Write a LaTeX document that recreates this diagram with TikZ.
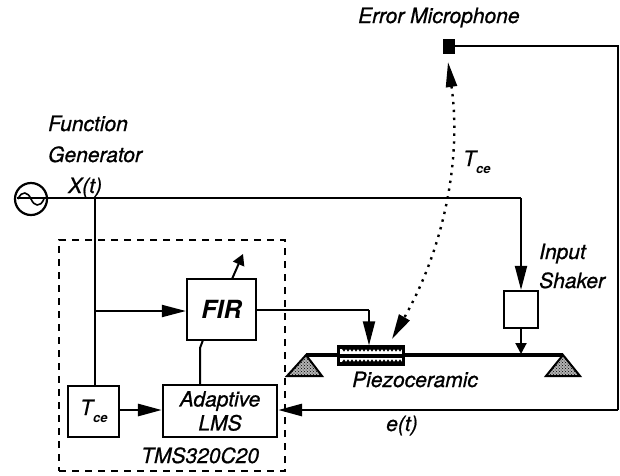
\documentclass[tikz,border=0pt]{standalone}
\usepackage{fontspec}
\setmainfont[ItalicFeatures={FakeBold=0.8}]{TeX Gyre Heros}
\usetikzlibrary{arrows.meta,patterns,calc}
\tikzset{
  block/.style={draw,line width=2.2pt,inner sep=0pt,fill=white,align=center},
  wire/.style={line width=2pt},
  thick wire/.style={line width=2.8pt},
  head/.style={-{Triangle[length=24pt,width=12pt]}},
  small head/.style={-{Triangle[length=11pt,width=11pt]}},
  lab/.style={font=\fontsize{21}{24}\selectfont\itshape,inner sep=0pt,anchor=base west},
  support/.style={draw,line width=2pt,preaction={fill=gray!60},pattern=crosshatch dots,pattern color=black},
}
\newcommand{\Tce}{T\raisebox{-7pt}{\fontsize{13}{14}\selectfont\bfseries ce}}
\begin{document}
\begin{tikzpicture}[x=1pt,y=-1pt]
\useasboundingbox (0,0) rectangle (620,475);
\fill[white] (0,0) rectangle (620,475);
% dashed processor boundary
\node[draw,line width=2pt,dash pattern=on 7pt off 6pt,minimum width=226pt,minimum height=231pt,inner sep=0pt] (dsp) at (172,355.5) {};
% blocks
\node[block,minimum width=51pt,minimum height=51pt] (tce) at (93.5,411.5) {};
\node[lab] (tcelab) at (80,415) {\Tce};
\node[block,minimum width=69pt,minimum height=61pt,font=\fontsize{25}{28}\selectfont\itshape\bfseries] (fir) at (221.5,309.5) {FIR};
\node[block,minimum width=114pt,minimum height=52pt,font=\fontsize{21}{24}\selectfont\itshape] (lms) at (220,411) {Adaptive\\LMS};
\node[block,minimum width=34pt,minimum height=37pt] (shaker) at (521,309.5) {};
\node[draw,fill=black,minimum width=11pt,minimum height=14pt,inner sep=0pt] (mic) at (449,46) {};
\node[draw,circle,line width=2.2pt,minimum size=32pt,inner sep=0pt] (osc) at (31,199) {};
\draw[line width=1.6pt] (18,199) .. controls (22,190) and (28,192) .. (31,199) .. controls (34,206) and (40,208) .. (44,199);
% beam
\coordinate (beamL) at (306,355);
\coordinate (beamR) at (563,355);
\draw[line width=3.2pt] (beamL) -- (beamR);
\node[draw,line width=2.2pt,fill=black,minimum width=66pt,minimum height=18pt,inner sep=0pt] (piezo) at (371,355.5) {};
\fill[white] (340,349) rectangle (402,353.5);
\fill[white] (340,357.5) rectangle (402,362);
\foreach \k in {0,...,14}{
  \fill[black] ({342+4*\k},349) -- ++(4,0) -- ++(-2,2.6) -- cycle;
  \fill[black] ({342+4*\k},362) -- ++(4,0) -- ++(-2,-2.6) -- cycle;
}
\draw[support] (beamL) -- (322,376) -- (287,376) -- cycle;
\draw[support] (beamR) -- (580,376) -- (546,376) -- cycle;
% junctions
\coordinate (xt) at (95,198);
\coordinate (firin) at (95,311);
\coordinate (cornerS) at (521,198);
\coordinate (cornerM) at (618,46);
\coordinate (cornerE) at (618,410);
\coordinate (cornerF) at (369,310);
% wires
\draw[thick wire] (17,198) -- (cornerS);
\draw[wire,head] (cornerS) -- (shaker.north);
\draw[wire] (xt) -- (95,386);
\draw[wire,head] (firin) -- (fir.west |- firin);
\draw[thick wire,head] (tce.east |- 0,410) -- (lms.west |- 0,410);
\draw[wire] (200,385) -- (200,348) -- (203,340);
\draw[wire,-{Triangle[length=11pt,width=12pt]}] (232,279) -- (243,254);
\draw[wire] (fir.east |- cornerF) -- (cornerF);
\draw[wire,head] (cornerF) -- (piezo.north -| cornerF);
\draw[wire,small head] (shaker.south) -- (521,354);
\draw[thick wire] (mic.east) -- (cornerM) -- (cornerE);
\draw[thick wire,head] (cornerE) -- (lms.east |- cornerE);
% dotted path with heads
\coordinate (dotA) at (448,62);
\coordinate (dotB) at (392,339);
\draw[line width=2.4pt,dash pattern=on 2.4pt off 5.5pt,{Triangle[length=25pt,width=11pt]}-{Triangle[length=25pt,width=12pt]}]
  (dotA) .. controls (462,160) and (443,250) .. (dotB);
% labels
\node[lab] (l1) at (358,23) {Error Microphone};
\node[lab] (l2) at (48,131) {Function};
\node[lab] (l3) at (48,162) {Generator};
\node[lab] (l4) at (68,193) {X(t)};
\node[lab] (l5) at (463,166) {\Tce};
\node[lab] (l6) at (539,259) {Input};
\node[lab] (l7) at (539,288) {Shaker};
\node[lab] (l8) at (352,387) {Piezoceramic};
\node[lab] (l9) at (386,431) {e(t)};
\node[lab] (l10) at (141,463) {TMS320C20};
\end{tikzpicture}
\end{document}
